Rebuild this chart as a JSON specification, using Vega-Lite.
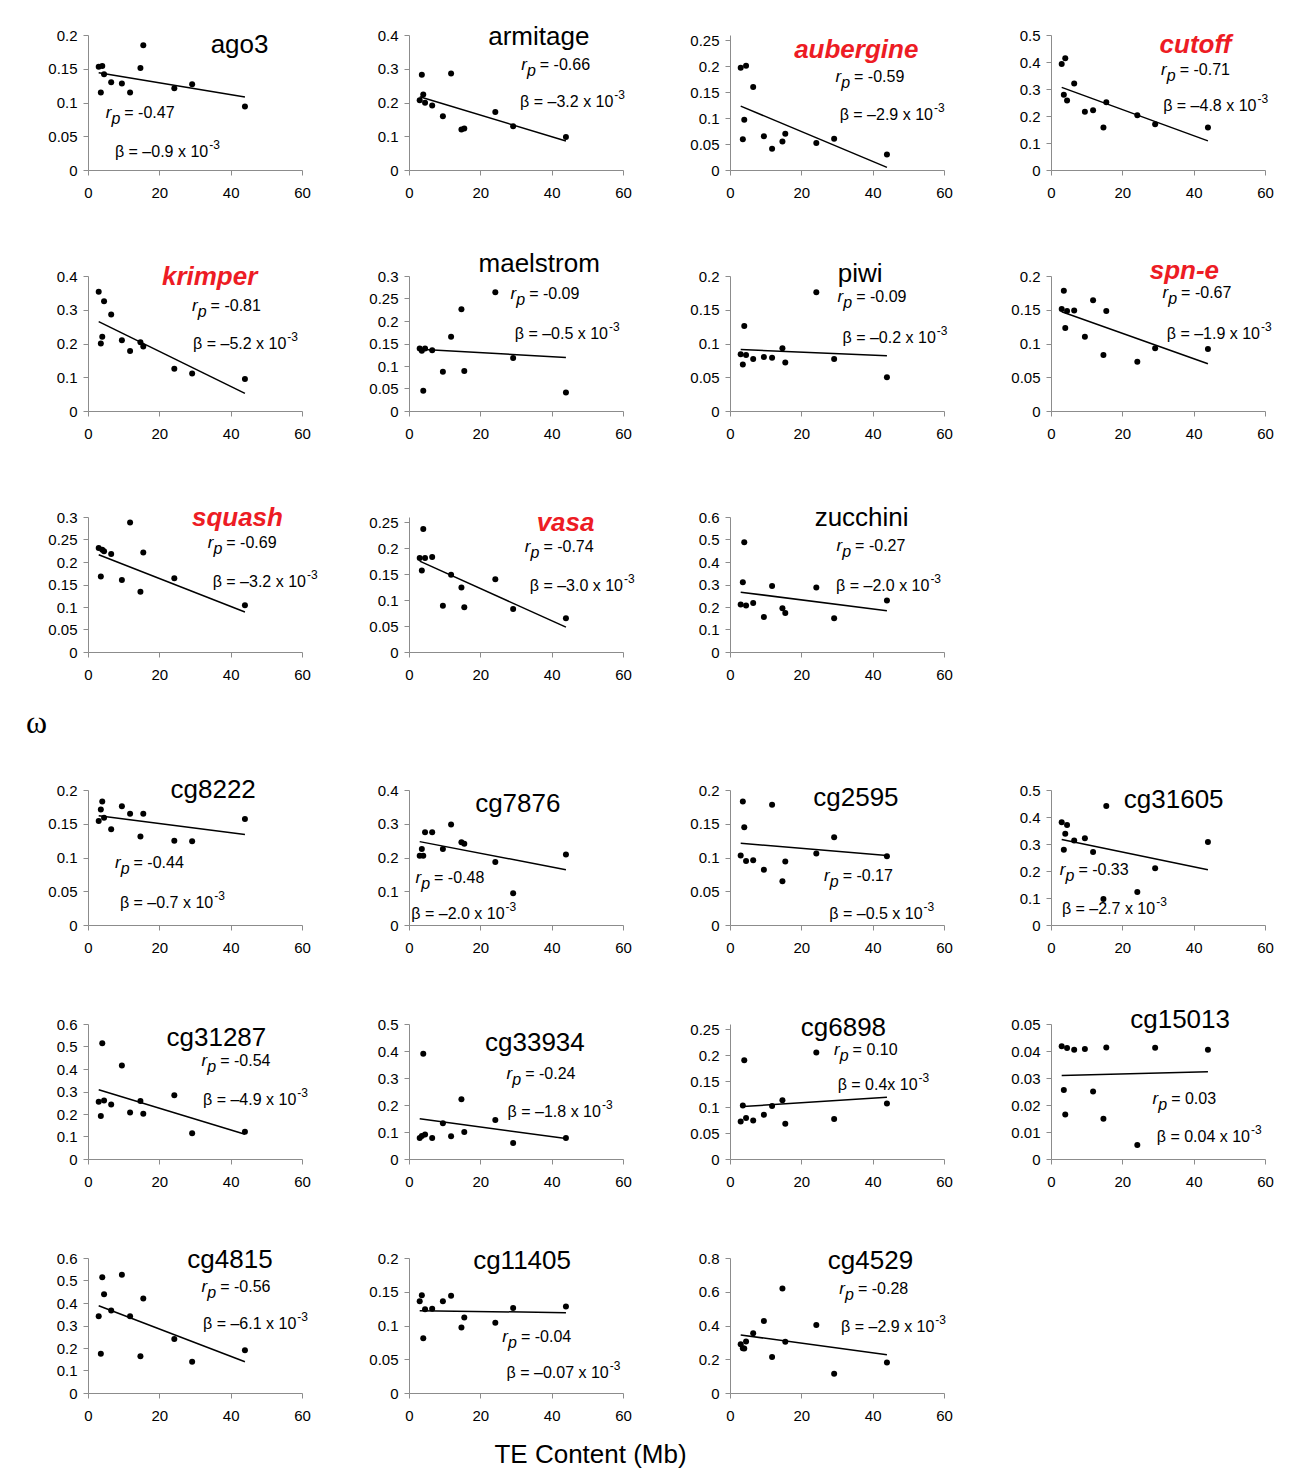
{
"$schema":"https://vega.github.io/schema/vega-lite/v6.json",
"background":"white",
"padding":{"left":22,"top":24,"right":5,"bottom":5},
"spacing":24,
"datasets":{
"pts":[
{"g":"ago3","x":3,"y":0.153},{"g":"ago3","x":3.6,"y":0.115},{"g":"ago3","x":4,"y":0.154},{"g":"ago3","x":4.5,"y":0.142},{"g":"ago3","x":6.5,"y":0.130},{"g":"ago3","x":9.5,"y":0.128},{"g":"ago3","x":11.8,"y":0.115},{"g":"ago3","x":14.7,"y":0.151},{"g":"ago3","x":15.5,"y":0.185},{"g":"ago3","x":24.2,"y":0.121},{"g":"ago3","x":29.2,"y":0.127},{"g":"ago3","x":44,"y":0.094},
{"g":"armitage","x":3,"y":0.207},{"g":"armitage","x":3.6,"y":0.282},{"g":"armitage","x":4,"y":0.224},{"g":"armitage","x":4.5,"y":0.199},{"g":"armitage","x":6.5,"y":0.191},{"g":"armitage","x":9.5,"y":0.159},{"g":"armitage","x":11.8,"y":0.286},{"g":"armitage","x":14.7,"y":0.120},{"g":"armitage","x":15.5,"y":0.123},{"g":"armitage","x":24.2,"y":0.172},{"g":"armitage","x":29.2,"y":0.130},{"g":"armitage","x":44,"y":0.098},
{"g":"aubergine","x":3,"y":0.197},{"g":"aubergine","x":3.6,"y":0.059},{"g":"aubergine","x":4,"y":0.097},{"g":"aubergine","x":4.5,"y":0.201},{"g":"aubergine","x":6.5,"y":0.160},{"g":"aubergine","x":9.5,"y":0.065},{"g":"aubergine","x":11.8,"y":0.041},{"g":"aubergine","x":14.7,"y":0.055},{"g":"aubergine","x":15.5,"y":0.070},{"g":"aubergine","x":24.2,"y":0.052},{"g":"aubergine","x":29.2,"y":0.060},{"g":"aubergine","x":44,"y":0.030},
{"g":"cutoff","x":3,"y":0.393},{"g":"cutoff","x":3.6,"y":0.279},{"g":"cutoff","x":4,"y":0.414},{"g":"cutoff","x":4.5,"y":0.257},{"g":"cutoff","x":6.5,"y":0.320},{"g":"cutoff","x":9.5,"y":0.216},{"g":"cutoff","x":11.8,"y":0.221},{"g":"cutoff","x":14.7,"y":0.157},{"g":"cutoff","x":15.5,"y":0.251},{"g":"cutoff","x":24.2,"y":0.203},{"g":"cutoff","x":29.2,"y":0.169},{"g":"cutoff","x":44,"y":0.157},
{"g":"krimper","x":3,"y":0.353},{"g":"krimper","x":3.6,"y":0.200},{"g":"krimper","x":4,"y":0.220},{"g":"krimper","x":4.5,"y":0.325},{"g":"krimper","x":6.5,"y":0.286},{"g":"krimper","x":9.5,"y":0.210},{"g":"krimper","x":11.8,"y":0.178},{"g":"krimper","x":14.7,"y":0.204},{"g":"krimper","x":15.5,"y":0.191},{"g":"krimper","x":24.2,"y":0.125},{"g":"krimper","x":29.2,"y":0.111},{"g":"krimper","x":44,"y":0.095},
{"g":"maelstrom","x":3,"y":0.139},{"g":"maelstrom","x":3.6,"y":0.134},{"g":"maelstrom","x":4,"y":0.045},{"g":"maelstrom","x":4.5,"y":0.139},{"g":"maelstrom","x":6.5,"y":0.135},{"g":"maelstrom","x":9.5,"y":0.087},{"g":"maelstrom","x":11.8,"y":0.165},{"g":"maelstrom","x":14.7,"y":0.226},{"g":"maelstrom","x":15.5,"y":0.089},{"g":"maelstrom","x":24.2,"y":0.264},{"g":"maelstrom","x":29.2,"y":0.118},{"g":"maelstrom","x":44,"y":0.041},
{"g":"piwi","x":3,"y":0.084},{"g":"piwi","x":3.6,"y":0.069},{"g":"piwi","x":4,"y":0.126},{"g":"piwi","x":4.5,"y":0.083},{"g":"piwi","x":6.5,"y":0.077},{"g":"piwi","x":9.5,"y":0.080},{"g":"piwi","x":11.8,"y":0.079},{"g":"piwi","x":14.7,"y":0.093},{"g":"piwi","x":15.5,"y":0.072},{"g":"piwi","x":24.2,"y":0.176},{"g":"piwi","x":29.2,"y":0.077},{"g":"piwi","x":44,"y":0.050},
{"g":"spn-e","x":3,"y":0.151},{"g":"spn-e","x":3.6,"y":0.178},{"g":"spn-e","x":4,"y":0.123},{"g":"spn-e","x":4.5,"y":0.148},{"g":"spn-e","x":6.5,"y":0.149},{"g":"spn-e","x":9.5,"y":0.110},{"g":"spn-e","x":11.8,"y":0.164},{"g":"spn-e","x":14.7,"y":0.083},{"g":"spn-e","x":15.5,"y":0.148},{"g":"spn-e","x":24.2,"y":0.073},{"g":"spn-e","x":29.2,"y":0.093},{"g":"spn-e","x":44,"y":0.092},
{"g":"squash","x":3,"y":0.231},{"g":"squash","x":3.6,"y":0.168},{"g":"squash","x":4,"y":0.227},{"g":"squash","x":4.5,"y":0.224},{"g":"squash","x":6.5,"y":0.218},{"g":"squash","x":9.5,"y":0.160},{"g":"squash","x":11.8,"y":0.288},{"g":"squash","x":14.7,"y":0.134},{"g":"squash","x":15.5,"y":0.221},{"g":"squash","x":24.2,"y":0.164},{"g":"squash","x":44,"y":0.104},
{"g":"vasa","x":3,"y":0.181},{"g":"vasa","x":3.6,"y":0.157},{"g":"vasa","x":4,"y":0.237},{"g":"vasa","x":4.5,"y":0.181},{"g":"vasa","x":6.5,"y":0.183},{"g":"vasa","x":9.5,"y":0.089},{"g":"vasa","x":11.8,"y":0.149},{"g":"vasa","x":14.7,"y":0.124},{"g":"vasa","x":15.5,"y":0.086},{"g":"vasa","x":24.2,"y":0.140},{"g":"vasa","x":29.2,"y":0.083},{"g":"vasa","x":44,"y":0.065},
{"g":"zucchini","x":3,"y":0.211},{"g":"zucchini","x":3.6,"y":0.310},{"g":"zucchini","x":4,"y":0.488},{"g":"zucchini","x":4.5,"y":0.207},{"g":"zucchini","x":6.5,"y":0.218},{"g":"zucchini","x":9.5,"y":0.156},{"g":"zucchini","x":11.8,"y":0.293},{"g":"zucchini","x":14.7,"y":0.195},{"g":"zucchini","x":15.5,"y":0.173},{"g":"zucchini","x":24.2,"y":0.287},{"g":"zucchini","x":29.2,"y":0.150},{"g":"zucchini","x":44,"y":0.229},
{"g":"cg8222","x":3,"y":0.154},{"g":"cg8222","x":3.6,"y":0.171},{"g":"cg8222","x":4,"y":0.183},{"g":"cg8222","x":4.5,"y":0.159},{"g":"cg8222","x":6.5,"y":0.142},{"g":"cg8222","x":9.5,"y":0.176},{"g":"cg8222","x":11.8,"y":0.165},{"g":"cg8222","x":14.7,"y":0.131},{"g":"cg8222","x":15.5,"y":0.165},{"g":"cg8222","x":24.2,"y":0.125},{"g":"cg8222","x":29.2,"y":0.124},{"g":"cg8222","x":44,"y":0.157},
{"g":"cg7876","x":3,"y":0.205},{"g":"cg7876","x":3.6,"y":0.225},{"g":"cg7876","x":4,"y":0.205},{"g":"cg7876","x":4.5,"y":0.275},{"g":"cg7876","x":6.5,"y":0.275},{"g":"cg7876","x":9.5,"y":0.225},{"g":"cg7876","x":11.8,"y":0.298},{"g":"cg7876","x":14.7,"y":0.245},{"g":"cg7876","x":15.5,"y":0.241},{"g":"cg7876","x":24.2,"y":0.187},{"g":"cg7876","x":29.2,"y":0.094},{"g":"cg7876","x":44,"y":0.209},
{"g":"cg2595","x":3,"y":0.103},{"g":"cg2595","x":3.6,"y":0.183},{"g":"cg2595","x":4,"y":0.145},{"g":"cg2595","x":4.5,"y":0.095},{"g":"cg2595","x":6.5,"y":0.096},{"g":"cg2595","x":9.5,"y":0.082},{"g":"cg2595","x":11.8,"y":0.178},{"g":"cg2595","x":14.7,"y":0.065},{"g":"cg2595","x":15.5,"y":0.094},{"g":"cg2595","x":24.2,"y":0.106},{"g":"cg2595","x":29.2,"y":0.130},{"g":"cg2595","x":44,"y":0.102},
{"g":"cg31605","x":3,"y":0.381},{"g":"cg31605","x":3.6,"y":0.279},{"g":"cg31605","x":4,"y":0.338},{"g":"cg31605","x":4.5,"y":0.370},{"g":"cg31605","x":6.5,"y":0.313},{"g":"cg31605","x":9.5,"y":0.321},{"g":"cg31605","x":11.8,"y":0.270},{"g":"cg31605","x":14.7,"y":0.096},{"g":"cg31605","x":15.5,"y":0.441},{"g":"cg31605","x":24.2,"y":0.122},{"g":"cg31605","x":29.2,"y":0.210},{"g":"cg31605","x":44,"y":0.307},
{"g":"cg31287","x":3,"y":0.255},{"g":"cg31287","x":3.6,"y":0.191},{"g":"cg31287","x":4,"y":0.515},{"g":"cg31287","x":4.5,"y":0.260},{"g":"cg31287","x":6.5,"y":0.242},{"g":"cg31287","x":9.5,"y":0.416},{"g":"cg31287","x":11.8,"y":0.207},{"g":"cg31287","x":14.7,"y":0.258},{"g":"cg31287","x":15.5,"y":0.201},{"g":"cg31287","x":24.2,"y":0.283},{"g":"cg31287","x":29.2,"y":0.115},{"g":"cg31287","x":44,"y":0.121},
{"g":"cg33934","x":3,"y":0.078},{"g":"cg33934","x":3.6,"y":0.085},{"g":"cg33934","x":4,"y":0.390},{"g":"cg33934","x":4.5,"y":0.091},{"g":"cg33934","x":6.5,"y":0.078},{"g":"cg33934","x":9.5,"y":0.132},{"g":"cg33934","x":11.8,"y":0.084},{"g":"cg33934","x":14.7,"y":0.221},{"g":"cg33934","x":15.5,"y":0.100},{"g":"cg33934","x":24.2,"y":0.144},{"g":"cg33934","x":29.2,"y":0.059},{"g":"cg33934","x":44,"y":0.078},
{"g":"cg6898","x":3,"y":0.072},{"g":"cg6898","x":3.6,"y":0.103},{"g":"cg6898","x":4,"y":0.190},{"g":"cg6898","x":4.5,"y":0.079},{"g":"cg6898","x":6.5,"y":0.074},{"g":"cg6898","x":9.5,"y":0.085},{"g":"cg6898","x":11.8,"y":0.102},{"g":"cg6898","x":14.7,"y":0.113},{"g":"cg6898","x":15.5,"y":0.068},{"g":"cg6898","x":24.2,"y":0.205},{"g":"cg6898","x":29.2,"y":0.077},{"g":"cg6898","x":44,"y":0.107},
{"g":"cg15013","x":3,"y":0.0418},{"g":"cg15013","x":3.6,"y":0.0256},{"g":"cg15013","x":4,"y":0.0165},{"g":"cg15013","x":4.5,"y":0.0411},{"g":"cg15013","x":6.5,"y":0.0405},{"g":"cg15013","x":9.5,"y":0.0407},{"g":"cg15013","x":11.8,"y":0.0250},{"g":"cg15013","x":14.7,"y":0.0149},{"g":"cg15013","x":15.5,"y":0.0413},{"g":"cg15013","x":24.2,"y":0.0052},{"g":"cg15013","x":29.2,"y":0.0412},{"g":"cg15013","x":44,"y":0.0405},
{"g":"cg4815","x":3,"y":0.341},{"g":"cg4815","x":3.6,"y":0.174},{"g":"cg4815","x":4,"y":0.514},{"g":"cg4815","x":4.5,"y":0.439},{"g":"cg4815","x":6.5,"y":0.367},{"g":"cg4815","x":9.5,"y":0.526},{"g":"cg4815","x":11.8,"y":0.341},{"g":"cg4815","x":14.7,"y":0.163},{"g":"cg4815","x":15.5,"y":0.420},{"g":"cg4815","x":24.2,"y":0.240},{"g":"cg4815","x":29.2,"y":0.139},{"g":"cg4815","x":44,"y":0.190},
{"g":"cg11405","x":3,"y":0.136},{"g":"cg11405","x":3.6,"y":0.145},{"g":"cg11405","x":4,"y":0.081},{"g":"cg11405","x":4.5,"y":0.124},{"g":"cg11405","x":6.5,"y":0.125},{"g":"cg11405","x":9.5,"y":0.136},{"g":"cg11405","x":11.8,"y":0.144},{"g":"cg11405","x":14.7,"y":0.097},{"g":"cg11405","x":15.5,"y":0.112},{"g":"cg11405","x":24.2,"y":0.104},{"g":"cg11405","x":29.2,"y":0.126},{"g":"cg11405","x":44,"y":0.128},
{"g":"cg4529","x":3,"y":0.289},{"g":"cg4529","x":3.6,"y":0.265},{"g":"cg4529","x":4,"y":0.263},{"g":"cg4529","x":4.5,"y":0.305},{"g":"cg4529","x":6.5,"y":0.354},{"g":"cg4529","x":9.5,"y":0.427},{"g":"cg4529","x":11.8,"y":0.214},{"g":"cg4529","x":14.7,"y":0.619},{"g":"cg4529","x":15.5,"y":0.303},{"g":"cg4529","x":24.2,"y":0.403},{"g":"cg4529","x":29.2,"y":0.114},{"g":"cg4529","x":44,"y":0.181}
],
"fit":[
{"g":"ago3","x":3,"y":0.144},{"g":"ago3","x":44,"y":0.108},
{"g":"armitage","x":3,"y":0.217},{"g":"armitage","x":44,"y":0.086},
{"g":"aubergine","x":3,"y":0.123},{"g":"aubergine","x":44,"y":0.005},
{"g":"cutoff","x":3,"y":0.306},{"g":"cutoff","x":44,"y":0.108},
{"g":"krimper","x":3,"y":0.265},{"g":"krimper","x":44,"y":0.052},
{"g":"maelstrom","x":3,"y":0.137},{"g":"maelstrom","x":44,"y":0.119},
{"g":"piwi","x":3,"y":0.091},{"g":"piwi","x":44,"y":0.082},
{"g":"spn-e","x":3,"y":0.147},{"g":"spn-e","x":44,"y":0.070},
{"g":"squash","x":3,"y":0.216},{"g":"squash","x":44,"y":0.089},
{"g":"vasa","x":3,"y":0.175},{"g":"vasa","x":44,"y":0.048},
{"g":"zucchini","x":3,"y":0.266},{"g":"zucchini","x":44,"y":0.183},
{"g":"cg8222","x":3,"y":0.162},{"g":"cg8222","x":44,"y":0.134},
{"g":"cg7876","x":3,"y":0.247},{"g":"cg7876","x":44,"y":0.164},
{"g":"cg2595","x":3,"y":0.121},{"g":"cg2595","x":44,"y":0.103},
{"g":"cg31605","x":3,"y":0.317},{"g":"cg31605","x":44,"y":0.205},
{"g":"cg31287","x":3,"y":0.308},{"g":"cg31287","x":44,"y":0.110},
{"g":"cg33934","x":3,"y":0.149},{"g":"cg33934","x":44,"y":0.076},
{"g":"cg6898","x":3.6,"y":0.101},{"g":"cg6898","x":44,"y":0.119},
{"g":"cg15013","x":3,"y":0.0309},{"g":"cg15013","x":44,"y":0.0323},
{"g":"cg4815","x":3,"y":0.388},{"g":"cg4815","x":44,"y":0.139},
{"g":"cg11405","x":3,"y":0.122},{"g":"cg11405","x":44,"y":0.119},
{"g":"cg4529","x":3,"y":0.344},{"g":"cg4529","x":44,"y":0.226}
]
},
"vconcat":[
{"columns":4,"bounds":"flush","spacing":{"row":106,"column":107},"concat":[
{"width":214,"height":135,"layer":[
{"data":{"name":"pts"},"transform":[{"filter":"datum.g=='ago3'"}],"mark":"circle","encoding":{"x":{"field":"x","type":"quantitative","scale":{"domain":[0,60]},"title":null},"y":{"field":"y","type":"quantitative","scale":{"domain":[0,0.2]},"axis":{"values":[0,0.05,0.1,0.15,0.2],"format":"~g","labelOverlap":false,"tickCount":20},"title":null}}},
{"data":{"name":"fit"},"transform":[{"filter":"datum.g=='ago3'"}],"mark":"line","encoding":{"x":{"field":"x","type":"quantitative"},"y":{"field":"y","type":"quantitative"}}},
{"data":{"values":[{}]},"mark":{"type":"text","text":"ago3","fontSize":26},"encoding":{"x":{"datum":42.5},"y":{"datum":0.185}}},
{"data":{"values":[{}]},"encoding":{"x":{"datum":9.9},"y":{"datum":0.0844}},"layer":[{"mark":{"type":"text","text":"r","align":"right","dx":-12,"fontStyle":"italic","fontSize":17}},{"mark":{"type":"text","text":"p","align":"right","dx":-3,"dy":6,"fontStyle":"italic"}},{"mark":{"type":"text","text":"= -0.47","align":"left","dx":1}}]},
{"data":{"values":[{}]},"encoding":{"x":{"datum":33.7},"y":{"datum":0.0267}},"layer":[{"mark":{"type":"text","text":"β = –0.9 x 10","align":"right"}},{"mark":{"type":"text","text":"-3","align":"left","dx":1,"dy":-7,"fontSize":12}}]}
]},
{"width":214,"height":135,"layer":[
{"data":{"name":"pts"},"transform":[{"filter":"datum.g=='armitage'"}],"mark":"circle","encoding":{"x":{"field":"x","type":"quantitative","scale":{"domain":[0,60]},"title":null},"y":{"field":"y","type":"quantitative","scale":{"domain":[0,0.4]},"axis":{"values":[0,0.1,0.2,0.3,0.4],"format":"~g","labelOverlap":false,"tickCount":20},"title":null}}},
{"data":{"name":"fit"},"transform":[{"filter":"datum.g=='armitage'"}],"mark":"line","encoding":{"x":{"field":"x","type":"quantitative"},"y":{"field":"y","type":"quantitative"}}},
{"data":{"values":[{}]},"mark":{"type":"text","text":"armitage","fontSize":26},"encoding":{"x":{"datum":36.4},"y":{"datum":0.394}}},
{"data":{"values":[{}]},"encoding":{"x":{"datum":36.4},"y":{"datum":0.311}},"layer":[{"mark":{"type":"text","text":"r","align":"right","dx":-12,"fontStyle":"italic","fontSize":17}},{"mark":{"type":"text","text":"p","align":"right","dx":-3,"dy":6,"fontStyle":"italic"}},{"mark":{"type":"text","text":"= -0.66","align":"left","dx":1}}]},
{"data":{"values":[{}]},"encoding":{"x":{"datum":57.3},"y":{"datum":0.201}},"layer":[{"mark":{"type":"text","text":"β = –3.2 x 10","align":"right"}},{"mark":{"type":"text","text":"-3","align":"left","dx":1,"dy":-7,"fontSize":12}}]}
]},
{"width":214,"height":135,"layer":[
{"data":{"name":"pts"},"transform":[{"filter":"datum.g=='aubergine'"}],"mark":"circle","encoding":{"x":{"field":"x","type":"quantitative","scale":{"domain":[0,60]},"title":null},"y":{"field":"y","type":"quantitative","scale":{"domain":[0,0.25]},"axis":{"values":[0,0.05,0.1,0.15,0.2,0.25],"format":"~g","labelOverlap":false,"tickCount":20},"title":null}}},
{"data":{"name":"fit"},"transform":[{"filter":"datum.g=='aubergine'"}],"mark":"line","encoding":{"x":{"field":"x","type":"quantitative"},"y":{"field":"y","type":"quantitative"}}},
{"data":{"values":[{}]},"mark":{"type":"text","text":"aubergine","fontSize":26,"fontWeight":"bold","fontStyle":"italic","color":"#ed1c24"},"encoding":{"x":{"datum":35.4},"y":{"datum":0.231}}},
{"data":{"values":[{}]},"encoding":{"x":{"datum":34.5},"y":{"datum":0.180}},"layer":[{"mark":{"type":"text","text":"r","align":"right","dx":-12,"fontStyle":"italic","fontSize":17}},{"mark":{"type":"text","text":"p","align":"right","dx":-3,"dy":6,"fontStyle":"italic"}},{"mark":{"type":"text","text":"= -0.59","align":"left","dx":1}}]},
{"data":{"values":[{}]},"encoding":{"x":{"datum":56.9},"y":{"datum":0.106}},"layer":[{"mark":{"type":"text","text":"β = –2.9 x 10","align":"right"}},{"mark":{"type":"text","text":"-3","align":"left","dx":1,"dy":-7,"fontSize":12}}]}
]},
{"width":214,"height":135,"layer":[
{"data":{"name":"pts"},"transform":[{"filter":"datum.g=='cutoff'"}],"mark":"circle","encoding":{"x":{"field":"x","type":"quantitative","scale":{"domain":[0,60]},"title":null},"y":{"field":"y","type":"quantitative","scale":{"domain":[0,0.5]},"axis":{"values":[0,0.1,0.2,0.3,0.4,0.5],"format":"~g","labelOverlap":false,"tickCount":20},"title":null}}},
{"data":{"name":"fit"},"transform":[{"filter":"datum.g=='cutoff'"}],"mark":"line","encoding":{"x":{"field":"x","type":"quantitative"},"y":{"field":"y","type":"quantitative"}}},
{"data":{"values":[{}]},"mark":{"type":"text","text":"cutoff","fontSize":26,"fontWeight":"bold","fontStyle":"italic","color":"#ed1c24"},"encoding":{"x":{"datum":40.5},"y":{"datum":0.463}}},
{"data":{"values":[{}]},"encoding":{"x":{"datum":35.8},"y":{"datum":0.370}},"layer":[{"mark":{"type":"text","text":"r","align":"right","dx":-12,"fontStyle":"italic","fontSize":17}},{"mark":{"type":"text","text":"p","align":"right","dx":-3,"dy":6,"fontStyle":"italic"}},{"mark":{"type":"text","text":"= -0.71","align":"left","dx":1}}]},
{"data":{"values":[{}]},"encoding":{"x":{"datum":57.6},"y":{"datum":0.237}},"layer":[{"mark":{"type":"text","text":"β = –4.8 x 10","align":"right"}},{"mark":{"type":"text","text":"-3","align":"left","dx":1,"dy":-7,"fontSize":12}}]}
]},
{"width":214,"height":135,"layer":[
{"data":{"name":"pts"},"transform":[{"filter":"datum.g=='krimper'"}],"mark":"circle","encoding":{"x":{"field":"x","type":"quantitative","scale":{"domain":[0,60]},"title":null},"y":{"field":"y","type":"quantitative","scale":{"domain":[0,0.4]},"axis":{"values":[0,0.1,0.2,0.3,0.4],"format":"~g","labelOverlap":false,"tickCount":20},"title":null}}},
{"data":{"name":"fit"},"transform":[{"filter":"datum.g=='krimper'"}],"mark":"line","encoding":{"x":{"field":"x","type":"quantitative"},"y":{"field":"y","type":"quantitative"}}},
{"data":{"values":[{}]},"mark":{"type":"text","text":"krimper","fontSize":26,"fontWeight":"bold","fontStyle":"italic","color":"#ed1c24"},"encoding":{"x":{"datum":34.1},"y":{"datum":0.397}}},
{"data":{"values":[{}]},"encoding":{"x":{"datum":34.1},"y":{"datum":0.311}},"layer":[{"mark":{"type":"text","text":"r","align":"right","dx":-12,"fontStyle":"italic","fontSize":17}},{"mark":{"type":"text","text":"p","align":"right","dx":-3,"dy":6,"fontStyle":"italic"}},{"mark":{"type":"text","text":"= -0.81","align":"left","dx":1}}]},
{"data":{"values":[{}]},"encoding":{"x":{"datum":55.6},"y":{"datum":0.199}},"layer":[{"mark":{"type":"text","text":"β = –5.2 x 10","align":"right"}},{"mark":{"type":"text","text":"-3","align":"left","dx":1,"dy":-7,"fontSize":12}}]}
]},
{"width":214,"height":135,"layer":[
{"data":{"name":"pts"},"transform":[{"filter":"datum.g=='maelstrom'"}],"mark":"circle","encoding":{"x":{"field":"x","type":"quantitative","scale":{"domain":[0,60]},"title":null},"y":{"field":"y","type":"quantitative","scale":{"domain":[0,0.3]},"axis":{"values":[0,0.05,0.1,0.15,0.2,0.25,0.3],"format":"~g","labelOverlap":false,"tickCount":20},"title":null}}},
{"data":{"name":"fit"},"transform":[{"filter":"datum.g=='maelstrom'"}],"mark":"line","encoding":{"x":{"field":"x","type":"quantitative"},"y":{"field":"y","type":"quantitative"}}},
{"data":{"values":[{}]},"mark":{"type":"text","text":"maelstrom","fontSize":26},"encoding":{"x":{"datum":36.5},"y":{"datum":0.327}}},
{"data":{"values":[{}]},"encoding":{"x":{"datum":33.4},"y":{"datum":0.26}},"layer":[{"mark":{"type":"text","text":"r","align":"right","dx":-12,"fontStyle":"italic","fontSize":17}},{"mark":{"type":"text","text":"p","align":"right","dx":-3,"dy":6,"fontStyle":"italic"}},{"mark":{"type":"text","text":"= -0.09","align":"left","dx":1}}]},
{"data":{"values":[{}]},"encoding":{"x":{"datum":55.8},"y":{"datum":0.171}},"layer":[{"mark":{"type":"text","text":"β = –0.5 x 10","align":"right"}},{"mark":{"type":"text","text":"-3","align":"left","dx":1,"dy":-7,"fontSize":12}}]}
]},
{"width":214,"height":135,"layer":[
{"data":{"name":"pts"},"transform":[{"filter":"datum.g=='piwi'"}],"mark":"circle","encoding":{"x":{"field":"x","type":"quantitative","scale":{"domain":[0,60]},"title":null},"y":{"field":"y","type":"quantitative","scale":{"domain":[0,0.2]},"axis":{"values":[0,0.05,0.1,0.15,0.2],"format":"~g","labelOverlap":false,"tickCount":20},"title":null}}},
{"data":{"name":"fit"},"transform":[{"filter":"datum.g=='piwi'"}],"mark":"line","encoding":{"x":{"field":"x","type":"quantitative"},"y":{"field":"y","type":"quantitative"}}},
{"data":{"values":[{}]},"mark":{"type":"text","text":"piwi","fontSize":26},"encoding":{"x":{"datum":36.5},"y":{"datum":0.203}}},
{"data":{"values":[{}]},"encoding":{"x":{"datum":35.1},"y":{"datum":0.169}},"layer":[{"mark":{"type":"text","text":"r","align":"right","dx":-12,"fontStyle":"italic","fontSize":17}},{"mark":{"type":"text","text":"p","align":"right","dx":-3,"dy":6,"fontStyle":"italic"}},{"mark":{"type":"text","text":"= -0.09","align":"left","dx":1}}]},
{"data":{"values":[{}]},"encoding":{"x":{"datum":57.7},"y":{"datum":0.108}},"layer":[{"mark":{"type":"text","text":"β = –0.2 x 10","align":"right"}},{"mark":{"type":"text","text":"-3","align":"left","dx":1,"dy":-7,"fontSize":12}}]}
]},
{"width":214,"height":135,"layer":[
{"data":{"name":"pts"},"transform":[{"filter":"datum.g=='spn-e'"}],"mark":"circle","encoding":{"x":{"field":"x","type":"quantitative","scale":{"domain":[0,60]},"title":null},"y":{"field":"y","type":"quantitative","scale":{"domain":[0,0.2]},"axis":{"values":[0,0.05,0.1,0.15,0.2],"format":"~g","labelOverlap":false,"tickCount":20},"title":null}}},
{"data":{"name":"fit"},"transform":[{"filter":"datum.g=='spn-e'"}],"mark":"line","encoding":{"x":{"field":"x","type":"quantitative"},"y":{"field":"y","type":"quantitative"}}},
{"data":{"values":[{}]},"mark":{"type":"text","text":"spn-e","fontSize":26,"fontWeight":"bold","fontStyle":"italic","color":"#ed1c24"},"encoding":{"x":{"datum":37.4},"y":{"datum":0.207}}},
{"data":{"values":[{}]},"encoding":{"x":{"datum":36.2},"y":{"datum":0.175}},"layer":[{"mark":{"type":"text","text":"r","align":"right","dx":-12,"fontStyle":"italic","fontSize":17}},{"mark":{"type":"text","text":"p","align":"right","dx":-3,"dy":6,"fontStyle":"italic"}},{"mark":{"type":"text","text":"= -0.67","align":"left","dx":1}}]},
{"data":{"values":[{}]},"encoding":{"x":{"datum":58.6},"y":{"datum":0.114}},"layer":[{"mark":{"type":"text","text":"β = –1.9 x 10","align":"right"}},{"mark":{"type":"text","text":"-3","align":"left","dx":1,"dy":-7,"fontSize":12}}]}
]},
{"width":214,"height":135,"layer":[
{"data":{"name":"pts"},"transform":[{"filter":"datum.g=='squash'"}],"mark":"circle","encoding":{"x":{"field":"x","type":"quantitative","scale":{"domain":[0,60]},"title":null},"y":{"field":"y","type":"quantitative","scale":{"domain":[0,0.3]},"axis":{"values":[0,0.05,0.1,0.15,0.2,0.25,0.3],"format":"~g","labelOverlap":false,"tickCount":20},"title":null}}},
{"data":{"name":"fit"},"transform":[{"filter":"datum.g=='squash'"}],"mark":"line","encoding":{"x":{"field":"x","type":"quantitative"},"y":{"field":"y","type":"quantitative"}}},
{"data":{"values":[{}]},"mark":{"type":"text","text":"squash","fontSize":26,"fontWeight":"bold","fontStyle":"italic","color":"#ed1c24"},"encoding":{"x":{"datum":41.9},"y":{"datum":0.298}}},
{"data":{"values":[{}]},"encoding":{"x":{"datum":38.5},"y":{"datum":0.242}},"layer":[{"mark":{"type":"text","text":"r","align":"right","dx":-12,"fontStyle":"italic","fontSize":17}},{"mark":{"type":"text","text":"p","align":"right","dx":-3,"dy":6,"fontStyle":"italic"}},{"mark":{"type":"text","text":"= -0.69","align":"left","dx":1}}]},
{"data":{"values":[{}]},"encoding":{"x":{"datum":61.1},"y":{"datum":0.156}},"layer":[{"mark":{"type":"text","text":"β = –3.2 x 10","align":"right"}},{"mark":{"type":"text","text":"-3","align":"left","dx":1,"dy":-7,"fontSize":12}}]}
]},
{"width":214,"height":135,"layer":[
{"data":{"name":"pts"},"transform":[{"filter":"datum.g=='vasa'"}],"mark":"circle","encoding":{"x":{"field":"x","type":"quantitative","scale":{"domain":[0,60]},"title":null},"y":{"field":"y","type":"quantitative","scale":{"domain":[0,0.25]},"axis":{"values":[0,0.05,0.1,0.15,0.2,0.25],"format":"~g","labelOverlap":false,"tickCount":20},"title":null}}},
{"data":{"name":"fit"},"transform":[{"filter":"datum.g=='vasa'"}],"mark":"line","encoding":{"x":{"field":"x","type":"quantitative"},"y":{"field":"y","type":"quantitative"}}},
{"data":{"values":[{}]},"mark":{"type":"text","text":"vasa","fontSize":26,"fontWeight":"bold","fontStyle":"italic","color":"#ed1c24"},"encoding":{"x":{"datum":43.9},"y":{"datum":0.248}}},
{"data":{"values":[{}]},"encoding":{"x":{"datum":37.4},"y":{"datum":0.202}},"layer":[{"mark":{"type":"text","text":"r","align":"right","dx":-12,"fontStyle":"italic","fontSize":17}},{"mark":{"type":"text","text":"p","align":"right","dx":-3,"dy":6,"fontStyle":"italic"}},{"mark":{"type":"text","text":"= -0.74","align":"left","dx":1}}]},
{"data":{"values":[{}]},"encoding":{"x":{"datum":60.0},"y":{"datum":0.128}},"layer":[{"mark":{"type":"text","text":"β = –3.0 x 10","align":"right"}},{"mark":{"type":"text","text":"-3","align":"left","dx":1,"dy":-7,"fontSize":12}}]}
]},
{"width":214,"height":135,"layer":[
{"data":{"name":"pts"},"transform":[{"filter":"datum.g=='zucchini'"}],"mark":"circle","encoding":{"x":{"field":"x","type":"quantitative","scale":{"domain":[0,60]},"title":null},"y":{"field":"y","type":"quantitative","scale":{"domain":[0,0.6]},"axis":{"values":[0,0.1,0.2,0.3,0.4,0.5,0.6],"format":"~g","labelOverlap":false,"tickCount":20},"title":null}}},
{"data":{"name":"fit"},"transform":[{"filter":"datum.g=='zucchini'"}],"mark":"line","encoding":{"x":{"field":"x","type":"quantitative"},"y":{"field":"y","type":"quantitative"}}},
{"data":{"values":[{}]},"mark":{"type":"text","text":"zucchini","fontSize":26},"encoding":{"x":{"datum":36.9},"y":{"datum":0.596}}},
{"data":{"values":[{}]},"encoding":{"x":{"datum":34.8},"y":{"datum":0.471}},"layer":[{"mark":{"type":"text","text":"r","align":"right","dx":-12,"fontStyle":"italic","fontSize":17}},{"mark":{"type":"text","text":"p","align":"right","dx":-3,"dy":6,"fontStyle":"italic"}},{"mark":{"type":"text","text":"= -0.27","align":"left","dx":1}}]},
{"data":{"values":[{}]},"encoding":{"x":{"datum":55.9},"y":{"datum":0.293}},"layer":[{"mark":{"type":"text","text":"β = –2.0 x 10","align":"right"}},{"mark":{"type":"text","text":"-3","align":"left","dx":1,"dy":-7,"fontSize":12}}]}
]}
]},
{"columns":4,"bounds":"flush","spacing":{"row":99,"column":107},"concat":[
{"width":214,"height":135,"layer":[
{"data":{"name":"pts"},"transform":[{"filter":"datum.g=='cg8222'"}],"mark":"circle","encoding":{"x":{"field":"x","type":"quantitative","scale":{"domain":[0,60]},"title":null},"y":{"field":"y","type":"quantitative","scale":{"domain":[0,0.2]},"axis":{"values":[0,0.05,0.1,0.15,0.2],"format":"~g","labelOverlap":false,"tickCount":20},"title":null}}},
{"data":{"name":"fit"},"transform":[{"filter":"datum.g=='cg8222'"}],"mark":"line","encoding":{"x":{"field":"x","type":"quantitative"},"y":{"field":"y","type":"quantitative"}}},
{"data":{"values":[{}]},"mark":{"type":"text","text":"ω","font":"Liberation Serif","fontSize":32},"encoding":{"x":{"datum":-14.4},"y":{"datum":0.3}}},
{"data":{"values":[{}]},"mark":{"type":"text","text":"cg8222","fontSize":26},"encoding":{"x":{"datum":35.1},"y":{"datum":0.2}}},
{"data":{"values":[{}]},"encoding":{"x":{"datum":12.5},"y":{"datum":0.0912}},"layer":[{"mark":{"type":"text","text":"r","align":"right","dx":-12,"fontStyle":"italic","fontSize":17}},{"mark":{"type":"text","text":"p","align":"right","dx":-3,"dy":6,"fontStyle":"italic"}},{"mark":{"type":"text","text":"= -0.44","align":"left","dx":1}}]},
{"data":{"values":[{}]},"encoding":{"x":{"datum":35.1},"y":{"datum":0.0324}},"layer":[{"mark":{"type":"text","text":"β = –0.7 x 10","align":"right"}},{"mark":{"type":"text","text":"-3","align":"left","dx":1,"dy":-7,"fontSize":12}}]}
]},
{"width":214,"height":135,"layer":[
{"data":{"name":"pts"},"transform":[{"filter":"datum.g=='cg7876'"}],"mark":"circle","encoding":{"x":{"field":"x","type":"quantitative","scale":{"domain":[0,60]},"title":null},"y":{"field":"y","type":"quantitative","scale":{"domain":[0,0.4]},"axis":{"values":[0,0.1,0.2,0.3,0.4],"format":"~g","labelOverlap":false,"tickCount":20},"title":null}}},
{"data":{"name":"fit"},"transform":[{"filter":"datum.g=='cg7876'"}],"mark":"line","encoding":{"x":{"field":"x","type":"quantitative"},"y":{"field":"y","type":"quantitative"}}},
{"data":{"values":[{}]},"mark":{"type":"text","text":"cg7876","fontSize":26},"encoding":{"x":{"datum":30.5},"y":{"datum":0.359}}},
{"data":{"values":[{}]},"encoding":{"x":{"datum":6.75},"y":{"datum":0.139}},"layer":[{"mark":{"type":"text","text":"r","align":"right","dx":-12,"fontStyle":"italic","fontSize":17}},{"mark":{"type":"text","text":"p","align":"right","dx":-3,"dy":6,"fontStyle":"italic"}},{"mark":{"type":"text","text":"= -0.48","align":"left","dx":1}}]},
{"data":{"values":[{}]},"encoding":{"x":{"datum":26.8},"y":{"datum":0.033}},"layer":[{"mark":{"type":"text","text":"β = –2.0 x 10","align":"right"}},{"mark":{"type":"text","text":"-3","align":"left","dx":1,"dy":-7,"fontSize":12}}]}
]},
{"width":214,"height":135,"layer":[
{"data":{"name":"pts"},"transform":[{"filter":"datum.g=='cg2595'"}],"mark":"circle","encoding":{"x":{"field":"x","type":"quantitative","scale":{"domain":[0,60]},"title":null},"y":{"field":"y","type":"quantitative","scale":{"domain":[0,0.2]},"axis":{"values":[0,0.05,0.1,0.15,0.2],"format":"~g","labelOverlap":false,"tickCount":20},"title":null}}},
{"data":{"name":"fit"},"transform":[{"filter":"datum.g=='cg2595'"}],"mark":"line","encoding":{"x":{"field":"x","type":"quantitative"},"y":{"field":"y","type":"quantitative"}}},
{"data":{"values":[{}]},"mark":{"type":"text","text":"cg2595","fontSize":26},"encoding":{"x":{"datum":35.3},"y":{"datum":0.188}}},
{"data":{"values":[{}]},"encoding":{"x":{"datum":31.3},"y":{"datum":0.072}},"layer":[{"mark":{"type":"text","text":"r","align":"right","dx":-12,"fontStyle":"italic","fontSize":17}},{"mark":{"type":"text","text":"p","align":"right","dx":-3,"dy":6,"fontStyle":"italic"}},{"mark":{"type":"text","text":"= -0.17","align":"left","dx":1}}]},
{"data":{"values":[{}]},"encoding":{"x":{"datum":54.0},"y":{"datum":0.0162}},"layer":[{"mark":{"type":"text","text":"β = –0.5 x 10","align":"right"}},{"mark":{"type":"text","text":"-3","align":"left","dx":1,"dy":-7,"fontSize":12}}]}
]},
{"width":214,"height":135,"layer":[
{"data":{"name":"pts"},"transform":[{"filter":"datum.g=='cg31605'"}],"mark":"circle","encoding":{"x":{"field":"x","type":"quantitative","scale":{"domain":[0,60]},"title":null},"y":{"field":"y","type":"quantitative","scale":{"domain":[0,0.5]},"axis":{"values":[0,0.1,0.2,0.3,0.4,0.5],"format":"~g","labelOverlap":false,"tickCount":20},"title":null}}},
{"data":{"name":"fit"},"transform":[{"filter":"datum.g=='cg31605'"}],"mark":"line","encoding":{"x":{"field":"x","type":"quantitative"},"y":{"field":"y","type":"quantitative"}}},
{"data":{"values":[{}]},"mark":{"type":"text","text":"cg31605","fontSize":26},"encoding":{"x":{"datum":34.4},"y":{"datum":0.463}}},
{"data":{"values":[{}]},"encoding":{"x":{"datum":7.4},"y":{"datum":0.202}},"layer":[{"mark":{"type":"text","text":"r","align":"right","dx":-12,"fontStyle":"italic","fontSize":17}},{"mark":{"type":"text","text":"p","align":"right","dx":-3,"dy":6,"fontStyle":"italic"}},{"mark":{"type":"text","text":"= -0.33","align":"left","dx":1}}]},
{"data":{"values":[{}]},"encoding":{"x":{"datum":29.2},"y":{"datum":0.059}},"layer":[{"mark":{"type":"text","text":"β = –2.7 x 10","align":"right"}},{"mark":{"type":"text","text":"-3","align":"left","dx":1,"dy":-7,"fontSize":12}}]}
]},
{"width":214,"height":135,"layer":[
{"data":{"name":"pts"},"transform":[{"filter":"datum.g=='cg31287'"}],"mark":"circle","encoding":{"x":{"field":"x","type":"quantitative","scale":{"domain":[0,60]},"title":null},"y":{"field":"y","type":"quantitative","scale":{"domain":[0,0.6]},"axis":{"values":[0,0.1,0.2,0.3,0.4,0.5,0.6],"format":"~g","labelOverlap":false,"tickCount":20},"title":null}}},
{"data":{"name":"fit"},"transform":[{"filter":"datum.g=='cg31287'"}],"mark":"line","encoding":{"x":{"field":"x","type":"quantitative"},"y":{"field":"y","type":"quantitative"}}},
{"data":{"values":[{}]},"mark":{"type":"text","text":"cg31287","fontSize":26},"encoding":{"x":{"datum":36},"y":{"datum":0.539}}},
{"data":{"values":[{}]},"encoding":{"x":{"datum":36.8},"y":{"datum":0.434}},"layer":[{"mark":{"type":"text","text":"r","align":"right","dx":-12,"fontStyle":"italic","fontSize":17}},{"mark":{"type":"text","text":"p","align":"right","dx":-3,"dy":6,"fontStyle":"italic"}},{"mark":{"type":"text","text":"= -0.54","align":"left","dx":1}}]},
{"data":{"values":[{}]},"encoding":{"x":{"datum":58.4},"y":{"datum":0.263}},"layer":[{"mark":{"type":"text","text":"β = –4.9 x 10","align":"right"}},{"mark":{"type":"text","text":"-3","align":"left","dx":1,"dy":-7,"fontSize":12}}]}
]},
{"width":214,"height":135,"layer":[
{"data":{"name":"pts"},"transform":[{"filter":"datum.g=='cg33934'"}],"mark":"circle","encoding":{"x":{"field":"x","type":"quantitative","scale":{"domain":[0,60]},"title":null},"y":{"field":"y","type":"quantitative","scale":{"domain":[0,0.5]},"axis":{"values":[0,0.1,0.2,0.3,0.4,0.5],"format":"~g","labelOverlap":false,"tickCount":20},"title":null}}},
{"data":{"name":"fit"},"transform":[{"filter":"datum.g=='cg33934'"}],"mark":"line","encoding":{"x":{"field":"x","type":"quantitative"},"y":{"field":"y","type":"quantitative"}}},
{"data":{"values":[{}]},"mark":{"type":"text","text":"cg33934","fontSize":26},"encoding":{"x":{"datum":35.3},"y":{"datum":0.431}}},
{"data":{"values":[{}]},"encoding":{"x":{"datum":32.3},"y":{"datum":0.314}},"layer":[{"mark":{"type":"text","text":"r","align":"right","dx":-12,"fontStyle":"italic","fontSize":17}},{"mark":{"type":"text","text":"p","align":"right","dx":-3,"dy":6,"fontStyle":"italic"}},{"mark":{"type":"text","text":"= -0.24","align":"left","dx":1}}]},
{"data":{"values":[{}]},"encoding":{"x":{"datum":53.8},"y":{"datum":0.175}},"layer":[{"mark":{"type":"text","text":"β = –1.8 x 10","align":"right"}},{"mark":{"type":"text","text":"-3","align":"left","dx":1,"dy":-7,"fontSize":12}}]}
]},
{"width":214,"height":135,"layer":[
{"data":{"name":"pts"},"transform":[{"filter":"datum.g=='cg6898'"}],"mark":"circle","encoding":{"x":{"field":"x","type":"quantitative","scale":{"domain":[0,60]},"title":null},"y":{"field":"y","type":"quantitative","scale":{"domain":[0,0.25]},"axis":{"values":[0,0.05,0.1,0.15,0.2,0.25],"format":"~g","labelOverlap":false,"tickCount":20},"title":null}}},
{"data":{"name":"fit"},"transform":[{"filter":"datum.g=='cg6898'"}],"mark":"line","encoding":{"x":{"field":"x","type":"quantitative"},"y":{"field":"y","type":"quantitative"}}},
{"data":{"values":[{}]},"mark":{"type":"text","text":"cg6898","fontSize":26},"encoding":{"x":{"datum":31.8},"y":{"datum":0.252}}},
{"data":{"values":[{}]},"encoding":{"x":{"datum":34.1},"y":{"datum":0.21}},"layer":[{"mark":{"type":"text","text":"r","align":"right","dx":-12,"fontStyle":"italic","fontSize":17}},{"mark":{"type":"text","text":"p","align":"right","dx":-3,"dy":6,"fontStyle":"italic"}},{"mark":{"type":"text","text":"= 0.10","align":"left","dx":1}}]},
{"data":{"values":[{}]},"encoding":{"x":{"datum":52.6},"y":{"datum":0.142}},"layer":[{"mark":{"type":"text","text":"β = 0.4x 10","align":"right"}},{"mark":{"type":"text","text":"-3","align":"left","dx":1,"dy":-7,"fontSize":12}}]}
]},
{"width":214,"height":135,"layer":[
{"data":{"name":"pts"},"transform":[{"filter":"datum.g=='cg15013'"}],"mark":"circle","encoding":{"x":{"field":"x","type":"quantitative","scale":{"domain":[0,60]},"title":null},"y":{"field":"y","type":"quantitative","scale":{"domain":[0,0.05]},"axis":{"values":[0,0.01,0.02,0.03,0.04,0.05],"format":"~g","labelOverlap":false,"tickCount":20},"title":null}}},
{"data":{"name":"fit"},"transform":[{"filter":"datum.g=='cg15013'"}],"mark":"line","encoding":{"x":{"field":"x","type":"quantitative"},"y":{"field":"y","type":"quantitative"}}},
{"data":{"values":[{}]},"mark":{"type":"text","text":"cg15013","fontSize":26},"encoding":{"x":{"datum":36.2},"y":{"datum":0.0515}}},
{"data":{"values":[{}]},"encoding":{"x":{"datum":33.4},"y":{"datum":0.0223}},"layer":[{"mark":{"type":"text","text":"r","align":"right","dx":-12,"fontStyle":"italic","fontSize":17}},{"mark":{"type":"text","text":"p","align":"right","dx":-3,"dy":6,"fontStyle":"italic"}},{"mark":{"type":"text","text":"= 0.03","align":"left","dx":1}}]},
{"data":{"values":[{}]},"encoding":{"x":{"datum":55.8},"y":{"datum":0.008}},"layer":[{"mark":{"type":"text","text":"β = 0.04 x 10","align":"right"}},{"mark":{"type":"text","text":"-3","align":"left","dx":1,"dy":-7,"fontSize":12}}]}
]},
{"width":214,"height":135,"layer":[
{"data":{"name":"pts"},"transform":[{"filter":"datum.g=='cg4815'"}],"mark":"circle","encoding":{"x":{"field":"x","type":"quantitative","scale":{"domain":[0,60]},"title":null},"y":{"field":"y","type":"quantitative","scale":{"domain":[0,0.6]},"axis":{"values":[0,0.1,0.2,0.3,0.4,0.5,0.6],"format":"~g","labelOverlap":false,"tickCount":20},"title":null}}},
{"data":{"name":"fit"},"transform":[{"filter":"datum.g=='cg4815'"}],"mark":"line","encoding":{"x":{"field":"x","type":"quantitative"},"y":{"field":"y","type":"quantitative"}}},
{"data":{"values":[{}]},"mark":{"type":"text","text":"cg4815","fontSize":26},"encoding":{"x":{"datum":39.8},"y":{"datum":0.591}}},
{"data":{"values":[{}]},"encoding":{"x":{"datum":36.8},"y":{"datum":0.473}},"layer":[{"mark":{"type":"text","text":"r","align":"right","dx":-12,"fontStyle":"italic","fontSize":17}},{"mark":{"type":"text","text":"p","align":"right","dx":-3,"dy":6,"fontStyle":"italic"}},{"mark":{"type":"text","text":"= -0.56","align":"left","dx":1}}]},
{"data":{"values":[{}]},"encoding":{"x":{"datum":58.4},"y":{"datum":0.307}},"layer":[{"mark":{"type":"text","text":"β = –6.1 x 10","align":"right"}},{"mark":{"type":"text","text":"-3","align":"left","dx":1,"dy":-7,"fontSize":12}}]}
]},
{"width":214,"height":135,"layer":[
{"data":{"name":"pts"},"transform":[{"filter":"datum.g=='cg11405'"}],"mark":"circle","encoding":{"x":{"field":"x","type":"quantitative","scale":{"domain":[0,60]},"title":null},"y":{"field":"y","type":"quantitative","scale":{"domain":[0,0.2]},"axis":{"values":[0,0.05,0.1,0.15,0.2],"format":"~g","labelOverlap":false,"tickCount":20},"title":null}}},
{"data":{"name":"fit"},"transform":[{"filter":"datum.g=='cg11405'"}],"mark":"line","encoding":{"x":{"field":"x","type":"quantitative"},"y":{"field":"y","type":"quantitative"}}},
{"data":{"values":[{}]},"mark":{"type":"text","text":"cg11405","fontSize":26},"encoding":{"x":{"datum":31.7},"y":{"datum":0.196}}},
{"data":{"values":[{}]},"encoding":{"x":{"datum":31.1},"y":{"datum":0.0832}},"layer":[{"mark":{"type":"text","text":"r","align":"right","dx":-12,"fontStyle":"italic","fontSize":17}},{"mark":{"type":"text","text":"p","align":"right","dx":-3,"dy":6,"fontStyle":"italic"}},{"mark":{"type":"text","text":"= -0.04","align":"left","dx":1}}]},
{"data":{"values":[{}]},"encoding":{"x":{"datum":56.0},"y":{"datum":0.0292}},"layer":[{"mark":{"type":"text","text":"β = –0.07 x 10","align":"right"}},{"mark":{"type":"text","text":"-3","align":"left","dx":1,"dy":-7,"fontSize":12}}]},
{"data":{"values":[{}]},"mark":{"type":"text","text":"TE Content (Mb)","fontSize":26},"encoding":{"x":{"datum":50.9},"y":{"datum":-0.092}}}
]},
{"width":214,"height":135,"layer":[
{"data":{"name":"pts"},"transform":[{"filter":"datum.g=='cg4529'"}],"mark":"circle","encoding":{"x":{"field":"x","type":"quantitative","scale":{"domain":[0,60]},"title":null},"y":{"field":"y","type":"quantitative","scale":{"domain":[0,0.8]},"axis":{"values":[0,0.2,0.4,0.6,0.8],"format":"~g","labelOverlap":false,"tickCount":20},"title":null}}},
{"data":{"name":"fit"},"transform":[{"filter":"datum.g=='cg4529'"}],"mark":"line","encoding":{"x":{"field":"x","type":"quantitative"},"y":{"field":"y","type":"quantitative"}}},
{"data":{"values":[{}]},"mark":{"type":"text","text":"cg4529","fontSize":26},"encoding":{"x":{"datum":39.4},"y":{"datum":0.782}}},
{"data":{"values":[{}]},"encoding":{"x":{"datum":35.6},"y":{"datum":0.619}},"layer":[{"mark":{"type":"text","text":"r","align":"right","dx":-12,"fontStyle":"italic","fontSize":17}},{"mark":{"type":"text","text":"p","align":"right","dx":-3,"dy":6,"fontStyle":"italic"}},{"mark":{"type":"text","text":"= -0.28","align":"left","dx":1}}]},
{"data":{"values":[{}]},"encoding":{"x":{"datum":57.3},"y":{"datum":0.391}},"layer":[{"mark":{"type":"text","text":"β = –2.9 x 10","align":"right"}},{"mark":{"type":"text","text":"-3","align":"left","dx":1,"dy":-7,"fontSize":12}}]}
]}
]}
],
"config":{
"view":{"stroke":null},
"font":"Liberation Sans",
"axis":{"grid":false,"domainColor":"#8c8c8c","tickColor":"#8c8c8c","tickSize":5,"labelFont":"Liberation Sans","labelFontSize":15,"labelColor":"#000","domainWidth":1,"tickWidth":1,"labelFlush":false,"labelOverlap":false},
"axisX":{"tickCount":3,"labelPadding":10},
"axisY":{"minExtent":66,"labelPadding":6,"labelOverlap":false,"tickCount":20},
"circle":{"size":36,"color":"#000","opacity":1},
"line":{"color":"#000","strokeWidth":1.5},
"text":{"font":"Liberation Sans","fontSize":16,"baseline":"middle","color":"#000"}
}
}
